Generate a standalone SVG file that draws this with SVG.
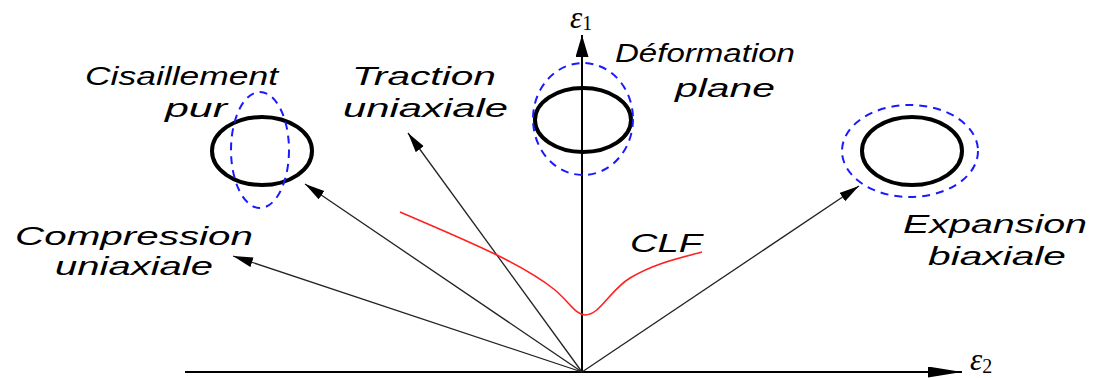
<svg xmlns="http://www.w3.org/2000/svg" width="1098" height="378" viewBox="0 0 1098 378">
<style>
.lbl{font-family:"Liberation Sans",Arial,sans-serif;font-style:italic;font-size:26px;fill:#000}
.eps{font-family:"Liberation Serif","Times New Roman",serif;font-style:italic;font-size:31px;fill:#000}
.sub{font-family:"Liberation Serif","Times New Roman",serif;font-style:normal;font-size:20px;fill:#000}
.axis{stroke:#000;stroke-width:2;fill:none}
.ray{stroke:#222;stroke-width:1.3;fill:none}
.shape{stroke:#000;stroke-width:4;fill:none}
.dash{stroke:#1a1aff;stroke-width:2;stroke-dasharray:8 6;fill:none}
.clf{stroke:#ff2020;stroke-width:1.6;fill:none}
</style>
<defs>
<marker id="ah" markerUnits="userSpaceOnUse" markerWidth="22" markerHeight="12" refX="20" refY="5" orient="auto">
<path d="M0,0 L20,5 L0,10 z" fill="#000"/>
</marker>
<marker id="axh" markerUnits="userSpaceOnUse" markerWidth="36" markerHeight="12" refX="34" refY="5.5" orient="auto">
<path d="M0,0 L34,5.5 L0,11 z" fill="#000"/>
</marker>
<marker id="ayh" markerUnits="userSpaceOnUse" markerWidth="24" markerHeight="14" refX="22" refY="6.5" orient="auto">
<path d="M0,0 L22,6.5 L0,13 z" fill="#000"/>
</marker>
</defs>
<rect width="1098" height="378" fill="#fff"/>
<g id="connectors">
<line class="axis" x1="185" y1="372" x2="962" y2="372" marker-end="url(#axh)"/>
<line class="axis" x1="582" y1="372" x2="582" y2="35" marker-end="url(#ayh)"/>
<line class="ray" x1="582" y1="372" x2="233" y2="256" marker-end="url(#ah)"/>
<line class="ray" x1="582" y1="372" x2="305" y2="184" marker-end="url(#ah)"/>
<line class="ray" x1="582" y1="372" x2="408" y2="133" marker-end="url(#ah)"/>
<line class="ray" x1="582" y1="372" x2="859" y2="186" marker-end="url(#ah)"/>
</g>
<g id="axis-labels">
<text class="eps" x="570" y="28">ε<tspan class="sub" dy="2">1</tspan></text>
<text class="eps" x="970" y="370">ε<tspan class="sub" dy="3">2</tspan></text>
</g>
<g id="cisaillement">
<ellipse class="shape" cx="262" cy="151" rx="50" ry="34"/>
<ellipse class="dash" cx="260" cy="150" rx="29" ry="58"/>
<text class="lbl" x="85" y="85" textLength="193" lengthAdjust="spacingAndGlyphs">Cisaillement</text>
<text class="lbl" x="165" y="117" textLength="62" lengthAdjust="spacingAndGlyphs">pur</text>
</g>
<g id="traction">
<text class="lbl" x="352" y="85" textLength="144" lengthAdjust="spacingAndGlyphs">Traction</text>
<text class="lbl" x="343" y="117" textLength="165" lengthAdjust="spacingAndGlyphs">uniaxiale</text>
</g>
<g id="deformation">
<ellipse class="shape" cx="583" cy="120" rx="48" ry="32"/>
<ellipse class="dash" cx="583" cy="119" rx="50" ry="56"/>
<text class="lbl" x="615" y="62" textLength="180" lengthAdjust="spacingAndGlyphs">Déformation</text>
<text class="lbl" x="675" y="97" textLength="100" lengthAdjust="spacingAndGlyphs">plane</text>
</g>
<g id="expansion">
<ellipse class="shape" cx="912" cy="151" rx="50" ry="34"/>
<ellipse class="dash" cx="910" cy="151" rx="68" ry="46"/>
<text class="lbl" x="903" y="233" textLength="184" lengthAdjust="spacingAndGlyphs">Expansion</text>
<text class="lbl" x="928" y="265" textLength="138" lengthAdjust="spacingAndGlyphs">biaxiale</text>
</g>
<g id="compression">
<text class="lbl" x="15" y="245" textLength="238" lengthAdjust="spacingAndGlyphs">Compression</text>
<text class="lbl" x="55" y="275" textLength="158" lengthAdjust="spacingAndGlyphs">uniaxiale</text>
</g>
<g id="clf">
<path class="clf" d="M400,212 C460,238 520,262 555,290 C570,303 576,315 585,315 C600,315 610,290 630,278 C655,263 680,258 702,252"/>
<text class="lbl" x="630" y="252" textLength="72" lengthAdjust="spacingAndGlyphs">CLF</text>
</g>
</svg>
